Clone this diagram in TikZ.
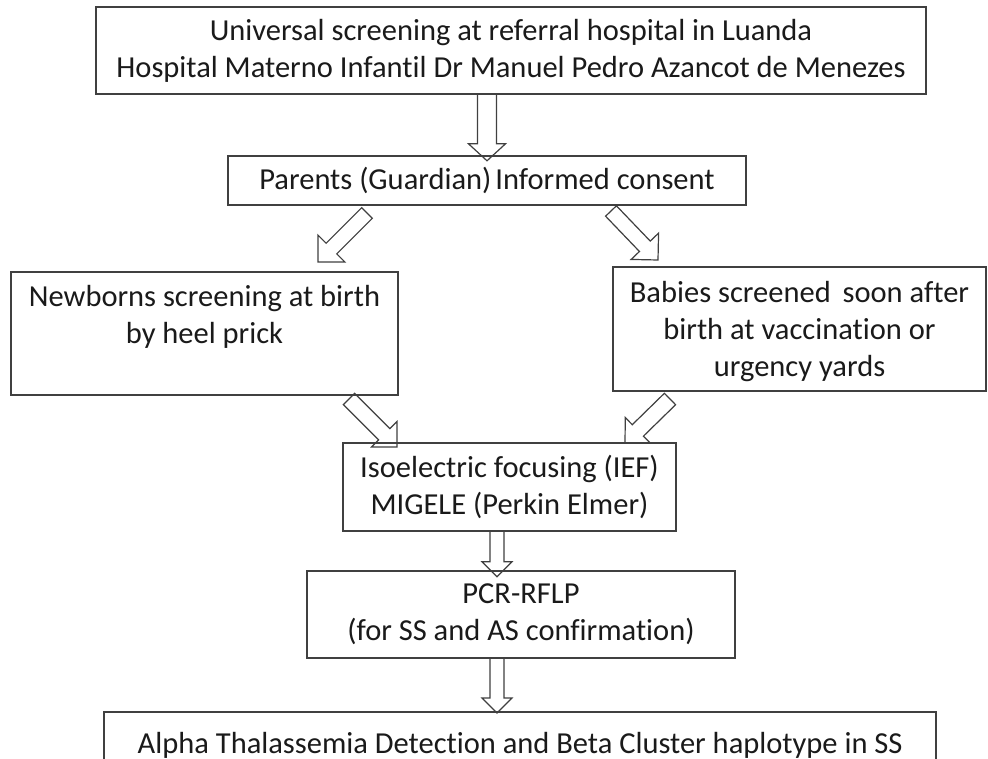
\documentclass[tikz,border=0pt]{standalone}
\usepackage{fontspec}
\setmainfont{Carlito}[Ligatures=NoCommon]
\usetikzlibrary{calc}
\definecolor{boxgray}{HTML}{404040}
\definecolor{txtc}{HTML}{1A1A1A}
\tikzset{
  box/.style={draw=boxgray, line width=1.5pt, inner sep=0pt, align=center,
    font=\fontsize{30.5}{37}\selectfont, text=txtc},
  txt/.style={inner sep=0pt, align=center, font=\fontsize{30.5}{37}\selectfont, text=txtc},
  barrow/.style={draw=boxgray, line width=1.2pt, fill=white, line join=miter},
}
% #1 tail, #2 tip, #3 half shaft width, #4 half head width, #5 head length
\newcommand\blockarrow[5]{%
  \coordinate (ba-h) at ($(#2)!#5!(#1)$);
  \draw[barrow] ($(#1)!#3!90:(#2)$) -- ($(ba-h)!#3!90:(#2)$) -- ($(ba-h)!#4!90:(#2)$)
    -- (#2) -- ($(ba-h)!#4!-90:(#2)$) -- ($(ba-h)!#3!-90:(#2)$) -- ($(#1)!#3!-90:(#2)$) -- cycle;
}
\begin{document}
\begin{tikzpicture}[x=1pt,y=-1pt]
\useasboundingbox (0,0) rectangle (988,759);
\clip (0,0) rectangle (988,759);
\fill[white] (0,0) rectangle (988,759);

% node geometry (boxes drawn after arrows)
\path
  node[minimum width=830, minimum height=87, inner sep=0pt] (top) at (511,50.5) {}
  node[minimum width=518, minimum height=49, inner sep=0pt] (par) at (487,180.5) {}
  node[minimum width=387, minimum height=123, inner sep=0pt] (newb) at (204.5,333.5) {}
  node[minimum width=373, minimum height=124, inner sep=0pt] (bab) at (799.5,329) {}
  node[minimum width=333, minimum height=88, inner sep=0pt] (ief) at (509.5,487) {}
  node[minimum width=428, minimum height=87, inner sep=0pt] (pcr) at (521,614.5) {}
  node[minimum width=832, minimum height=80, inner sep=0pt, anchor=north west] (bot) at (104,712) {};

% arrow end points
\coordinate (a1s) at (par.north |- top.south);
\coordinate (a1t) at ($(par.north)+(0,5)$);
\coordinate (d1s) at (367,213);
\coordinate (d1t) at (318,262);
\coordinate (d2s) at (611,211);
\coordinate (d2t) at (658,260);
\coordinate (d3s) at (349,399);
\coordinate (d3t) at (397,447);
\coordinate (d4s) at (670,399);
\coordinate (d4t) at (625,443);
\coordinate (a2s) at (497,531);
\coordinate (a2t) at ($(pcr.north -| a2s)+(0,6)$);
\coordinate (a3s) at (pcr.south -| a2s);
\coordinate (a3t) at ($(bot.north -| a2s)+(0,1)$);

\blockarrow{a1s}{a1t}{9.5pt}{18.5pt}{17pt}
\blockarrow{d1s}{d1t}{7.5pt}{19pt}{19pt}
\blockarrow{d2s}{d2t}{7.5pt}{19pt}{19pt}
\blockarrow{d3s}{d3t}{8pt}{18pt}{18pt}
\blockarrow{d4s}{d4t}{8pt}{18pt}{18pt}
\blockarrow{a2s}{a2t}{7pt}{15pt}{15pt}
\blockarrow{a3s}{a3t}{7pt}{15pt}{15pt}

% boxes
\node[box, minimum width=830, minimum height=87] (topb) at (top) {Universal screening at referral hospital in Luanda\\Hospital Materno Infantil Dr Manuel Pedro Azancot de Menezes};
\node[box, minimum width=518, minimum height=49] (parb) at (par) {Parents (Guardian)\hspace{4pt}Informed consent};
\node[box, minimum width=387, minimum height=123] (newbb) at (newb) {};
\node[txt, anchor=north] (newbt) at ($(newb.north)+(0,13)$) {Newborns screening at birth\\by heel prick};
\node[box, minimum width=373, minimum height=124] (babb) at (bab) {};
\node[txt, anchor=north] (babt) at ($(bab.north)+(0,14)$) {Babies screened\hspace{5pt} soon after\\birth at vaccination or\\urgency yards};
\node[box, minimum width=333, minimum height=88] (iefb) at (ief) {Isoelectric focusing (IEF)\\MIGELE (Perkin Elmer)};
\node[box, minimum width=428, minimum height=87] (pcrb) at (pcr) {PCR-RFLP\\(for SS and AS confirmation)};
\node[box, minimum width=832, minimum height=80] (botb) at (bot) {};
\node[txt, anchor=base] (bott) at ($(bot.north)+(0,41)$) {Alpha Thalassemia Detection and Beta Cluster haplotype in SS};
\end{tikzpicture}
\end{document}
